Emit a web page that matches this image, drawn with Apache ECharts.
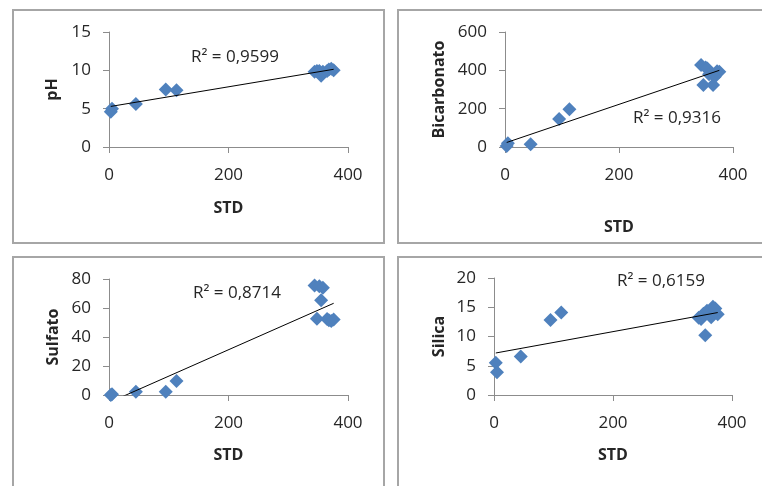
<!DOCTYPE html>
<html>
<head>
<meta charset="utf-8">
<script src="https://cdn.jsdelivr.net/npm/echarts@6/dist/echarts.min.js"></script>
<style>
html,body{margin:0;padding:0;background:#fff;}
#c{width:762px;height:486px;}
</style>
</head>
<body>
<div id="c"></div>
<script>
// STD (x) shared by all panels
var std = [3, 5, 45, 95, 113, 344, 348, 352, 355, 358, 365, 368, 372, 376];
var pH = [4.6, 5.0, 5.6, 7.5, 7.4, 9.8, 9.9, 9.9, 9.3, 9.8, 9.9, 10.1, 10.2, 10.0];
var bicarbonato = [5, 20, 15, 146, 197, 428, 324, 415, 410, 380, 324, 367, 395, 393];
var sulfato = [0, 0.5, 2.3, 2.3, 9.7, 75.5, 52.6, 75, 65.3, 74, 52.5, 51.5, 51, 52];
var silica = [5.5, 3.9, 6.6, 12.8, 14.1, 13.2, 13.0, 13.9, 10.2, 14.4, 13.3, 15.1, 14.8, 13.8];

var yNames = ['pH', 'Bicarbonato', 'Sulfato', 'Silica'];
var r2Labels = ['R\u00b2 = 0,9599', 'R\u00b2 = 0,9316', 'R\u00b2 = 0,8714', 'R\u00b2 = 0,6159'];
var yMax = [15, 600, 80, 20];
var yInterval = [5, 200, 20, 5];
var xTicks = [0, 200, 400];

var seriesY = [pH, bicarbonato, sulfato, silica];

function fit(xs, ys) {
  var n = xs.length, mx = 0, my = 0;
  for (var i = 0; i < n; i++) { mx += xs[i]; my += ys[i]; }
  mx /= n; my /= n;
  var sxy = 0, sxx = 0;
  for (var i = 0; i < n; i++) { sxy += (xs[i]-mx)*(ys[i]-my); sxx += (xs[i]-mx)*(xs[i]-mx); }
  var b = sxy / sxx, a = my - b * mx;
  var x0 = Math.min.apply(null, xs), x1 = Math.max.apply(null, xs);
  return [[x0, a + b * x0], [x1, a + b * x1]];
}

var grids = [
  {left: 109, top: 32, width: 239, height: 115},
  {left: 505, top: 32, width: 228, height: 115},
  {left: 109, top: 279, width: 239, height: 116},
  {left: 494, top: 278, width: 238, height: 117}
];
var xNameGap = [53, 72, 52, 52];
var yNameGap = [49, 58, 48, 47];
var r2Pos = [[235, 57], [677, 118], [237, 293], [661, 281]];
var boxes = [[13, 10, 371, 233], [398, 10, 380, 233], [13, 257, 371, 240], [398, 257, 380, 240]];

var axisCol = '#8c8c8c';
var txtCol = '#262626';
var font = 'Open Sans';

var xAxis = [], yAxis = [], series = [], graphic = [];
for (var k = 0; k < 4; k++) {
  xAxis.push({
    type: 'value', gridIndex: k, min: xTicks[0], max: xTicks[xTicks.length-1], interval: xTicks[1]-xTicks[0],
    name: 'STD', nameLocation: 'middle', nameGap: xNameGap[k],
    nameTextStyle: {fontFamily: font, fontSize: 16, fontWeight: 'bold', color: txtCol},
    axisLine: {show: true, onZero: false, lineStyle: {color: axisCol, width: 1}},
    axisTick: {show: true, inside: false, length: 6, lineStyle: {color: axisCol}},
    axisLabel: {fontFamily: font, fontSize: 17, color: txtCol, margin: 20},
    splitLine: {show: false}
  });
  yAxis.push({
    type: 'value', gridIndex: k, min: 0, max: yMax[k], interval: yInterval[k],
    name: yNames[k], nameLocation: 'middle', nameGap: yNameGap[k], nameRotate: 90,
    nameTextStyle: {fontFamily: font, fontSize: 16, fontWeight: 'bold', color: txtCol},
    axisLine: {show: true, lineStyle: {color: axisCol, width: 1}},
    axisTick: {show: true, inside: false, length: 6, lineStyle: {color: axisCol}},
    axisLabel: {fontFamily: font, fontSize: 17, color: txtCol, margin: 18},
    splitLine: {show: false}
  });
  var pts = std.map(function (x, i) { return [x, seriesY[k][i]]; });
  series.push({
    type: 'scatter', xAxisIndex: k, yAxisIndex: k, data: pts,
    symbol: 'diamond', symbolSize: [14, 14],
    itemStyle: {color: '#4f81bd', opacity: 1}, z: 3
  });
  series.push({
    type: 'line', xAxisIndex: k, yAxisIndex: k, data: fit(std, seriesY[k]),
    symbol: 'none', clip: true, lineStyle: {color: '#000', width: 1}, z: 4,
    silent: true
  });
  graphic.push({
    type: 'rect', shape: {x: boxes[k][0], y: boxes[k][1], width: boxes[k][2], height: boxes[k][3]},
    style: {fill: 'none', stroke: '#a6a6a6', lineWidth: 2}, z: 0
  });
  graphic.push({
    type: 'text', x: r2Pos[k][0], y: r2Pos[k][1], z: 10,
    style: {text: r2Labels[k], font: '17px "' + font + '"', fill: txtCol, align: 'center', verticalAlign: 'middle'}
  });
}

var chart = echarts.init(document.getElementById('c'), null, {renderer: 'canvas'});
chart.setOption({
  animation: false,
  backgroundColor: '#fff',
  grid: grids,
  xAxis: xAxis,
  yAxis: yAxis,
  series: series,
  graphic: graphic
});
</script>
</body>
</html>
